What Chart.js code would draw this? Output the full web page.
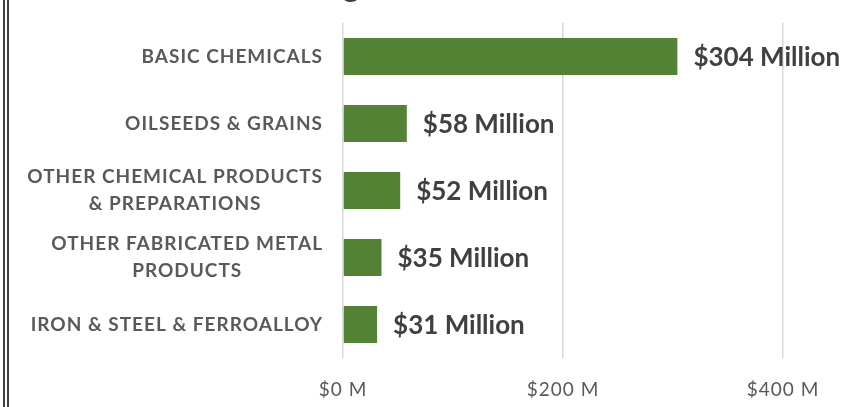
<!DOCTYPE html>
<html>
<head>
<meta charset="utf-8">
<script src="https://cdn.jsdelivr.net/npm/chart.js@4.4.1/dist/chart.umd.min.js"></script>
<style>
  html, body { margin: 0; padding: 0; background: #fff; }
  #wrap { width: 847px; height: 407px; position: relative; }
</style>
</head>
<body>
<div id="wrap"><canvas id="myChart"></canvas></div>
<script>
// datos del grafico
var categorias = [
    ["BASIC CHEMICALS"],
    ["OILSEEDS & GRAINS"],
    ["OTHER CHEMICAL PRODUCTS", "& PREPARATIONS"],
    ["OTHER FABRICATED METAL", "PRODUCTS"],
    ["IRON & STEEL & FERROALLOY"]
];
var valores = [304, 58, 52, 35, 31];
var etiquetasValor = ["$304 Million", "$58 Million", "$52 Million", "$35 Million", "$31 Million"];
var ticksX = [0, 200, 400];

var fuente = "Lato, 'Open Sans', sans-serif";

// etiquetas de categoria (bloque centrado, alineado a la derecha)
var pluginCategorias = {
    id: 'categorias',
    afterDraw: function (chart) {
        var ctx = chart.ctx;
        var y = chart.scales.y;
        ctx.save();
        ctx.font = "bold 19px " + fuente;
        ctx.letterSpacing = "1px";
        ctx.fillStyle = "#595959";
        ctx.textBaseline = "middle";
        ctx.textAlign = "center";
        var derecha = 323;
        var altoLinea = 27;
        categorias.forEach(function (lineas, i) {
            var ancho = 0;
            lineas.forEach(function (l) { ancho = Math.max(ancho, ctx.measureText(l).width); });
            var cx = derecha - ancho / 2;
            var cy = y.getPixelForTick(i);
            var y0 = cy - (lineas.length - 1) * altoLinea / 2;
            lineas.forEach(function (l, j) {
                ctx.fillText(l, cx, y0 + j * altoLinea);
            });
        });
        ctx.restore();
    }
};

// etiquetas de valor al final de cada barra
var pluginValores = {
    id: 'valores',
    afterDatasetsDraw: function (chart) {
        var ctx = chart.ctx;
        var meta = chart.getDatasetMeta(0);
        ctx.save();
        ctx.font = "bold 26px " + fuente;
        ctx.letterSpacing = "0px";
        ctx.fillStyle = "#404040";
        ctx.textBaseline = "middle";
        ctx.textAlign = "left";
        meta.data.forEach(function (bar, i) {
            ctx.fillText(etiquetasValor[i], bar.x + 16, bar.y + 1);
        });
        ctx.restore();
    }
};

// marco doble a la izquierda y resto del titulo cortado
var pluginMarco = {
    id: 'marco',
    beforeDraw: function (chart) {
        var ctx = chart.ctx;
        ctx.save();
        ctx.fillStyle = "#fff";
        ctx.fillRect(0, 0, chart.width, chart.height);
        ctx.strokeStyle = "#000";
        ctx.lineWidth = 1.5;
        [4, 8].forEach(function (x) {
            ctx.beginPath();
            ctx.moveTo(x, 0);
            ctx.lineTo(x, chart.height);
            ctx.stroke();
        });
        ctx.font = "bold 30px " + fuente;
        ctx.fillStyle = "#404040";
        ctx.textAlign = "center";
        ctx.textBaseline = "alphabetic";
        ctx.fillText("g", 351, -3);
        ctx.restore();
        // espaciado de letras para los ticks del eje x
        ctx.letterSpacing = "1px";
    },
    afterDraw: function (chart) {
        chart.ctx.letterSpacing = "0px";
    }
};

var ctx = document.getElementById("myChart");
var myChart = new Chart(ctx, {
    type: 'bar',
    data: {
        labels: categorias,
        datasets: [{
            label: "Exports",
            data: valores,
            backgroundColor: "#548235",
            barPercentage: 1,
            categoryPercentage: 0.55
        }]
    },
    options: {
        indexAxis: 'y',
        responsive: true,
        maintainAspectRatio: false,
        animation: false,
        layout: { padding: { top: 23, right: 64, left: 0, bottom: 0 } },
        plugins: {
            legend: { display: false },
            tooltip: { enabled: false },
            title: { display: false }
        },
        scales: {
            x: {
                min: 0,
                max: 400,
                afterBuildTicks: function (s) {
                    s.ticks = ticksX.map(function (v) { return { value: v }; });
                },
                afterFit: function (s) { s.height = 49; },
                grid: { color: "#d9d9d9", lineWidth: 1.5, drawTicks: false },
                border: { display: false },
                ticks: {
                    padding: 20,
                    color: "#595959",
                    font: { family: fuente, size: 19 },
                    callback: function (v) { return "$" + v + " M"; }
                }
            },
            y: {
                afterFit: function (s) { s.width = 343; },
                grid: { display: false },
                border: { display: false },
                ticks: { display: false }
            }
        }
    },
    plugins: [pluginMarco, pluginCategorias, pluginValores]
});
</script>
</body>
</html>
